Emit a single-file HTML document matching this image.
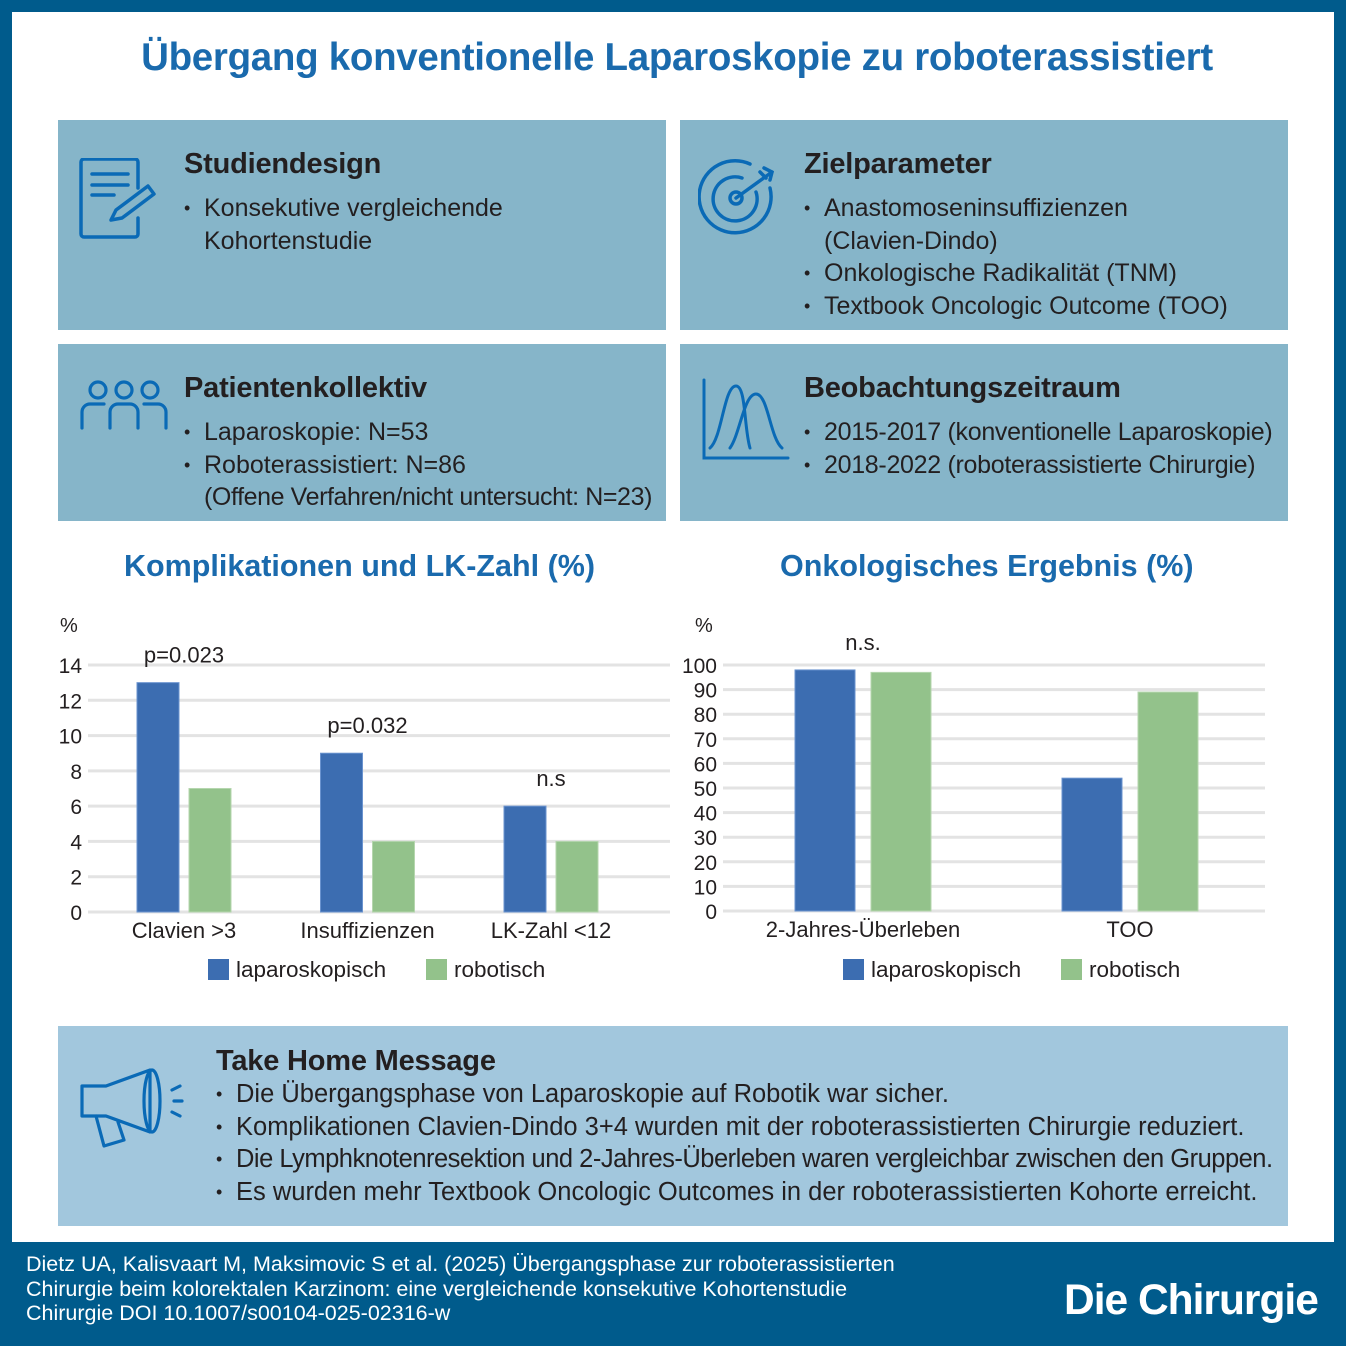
<!DOCTYPE html>
<html><head><meta charset="utf-8">
<style>
*{margin:0;padding:0;box-sizing:border-box}
body{width:1346px;height:1346px;background:#005b8c;font-family:"Liberation Sans",sans-serif;position:relative;overflow:hidden;color:#231f20}
.abs{position:absolute}
#inner{left:12px;top:12px;width:1322px;height:1230px;background:#fff}
.box{position:absolute;background:#86b5c9}
.box h2{position:absolute;font-size:29px;font-weight:bold;color:#231f20;letter-spacing:-0.2px;white-space:nowrap}
.box ul{position:absolute;list-style:none;font-size:25px;line-height:32.5px;letter-spacing:0;white-space:nowrap}
.box li{padding-left:20px;position:relative}
.box li.b:before{content:"•";position:absolute;left:0;font-size:18px}
.ctitle{position:absolute;font-size:30.5px;font-weight:bold;color:#1a6aad;white-space:nowrap}
svg text{font-family:"Liberation Sans",sans-serif}
</style></head><body>
<div id="inner" class="abs"></div>
<div class="abs" style="left:0;width:1354px;top:36px;text-align:center;font-size:38.5px;font-weight:bold;color:#1a6aad;letter-spacing:-0.3px">Übergang konventionelle Laparoskopie zu roboterassistiert</div>

<div class="box" style="left:58px;top:120px;width:608px;height:210px">
<svg class="abs" style="left:20px;top:38px" width="82" height="82" viewBox="0 0 82 82"><g fill="none" stroke="#0a6ab6" stroke-width="3.5" stroke-linecap="round" stroke-linejoin="round"><path d="M60 60 V76 a3 3 0 0 1 -3 3 H6 a3 3 0 0 1 -3 -3 V4 a3 3 0 0 1 3 -3 H57 a3 3 0 0 1 3 3 V30"/><path d="M14 16 H50 M14 27 H50 M14 37 H36"/><path d="M33 62 L38 52 L70 28 L76 36 L44 60 Z"/></g></svg>
<h2 style="left:126px;top:28px">Studiendesign</h2>
<ul style="left:126px;top:72px"><li class="b">Konsekutive vergleichende</li><li>Kohortenstudie</li></ul>
</div>

<div class="box" style="left:680px;top:120px;width:608px;height:210px">
<svg class="abs" style="left:18px;top:38px" width="84" height="82" viewBox="0 0 84 82"><g fill="none" stroke="#0a6ab6" stroke-width="3.5" stroke-linecap="round"><path d="M72 30 A36 36 0 1 1 52 6"/><path d="M58 34 A22 22 0 1 1 44 20"/><circle cx="38" cy="40" r="6"/><path d="M38 40 L74 14 M66 10 L74 14 L72 22 M62 14 L68 20"/></g></svg>
<h2 style="left:124px;top:28px">Zielparameter</h2>
<ul style="left:124px;top:72px"><li class="b">Anastomoseninsuffizienzen</li><li>(Clavien-Dindo)</li><li class="b">Onkologische Radikalität (TNM)</li><li class="b">Textbook Oncologic Outcome (TOO)</li></ul>
</div>

<div class="box" style="left:58px;top:344px;width:608px;height:177px">
<svg class="abs" style="left:22px;top:32px" width="88" height="56" viewBox="0 0 88 56"><g fill="none" stroke="#0a6ab6" stroke-width="3.2" stroke-linecap="round"><circle cx="18" cy="14" r="8"/><circle cx="44" cy="14" r="8"/><circle cx="70" cy="14" r="8"/><path d="M2 52 V36 a8 8 0 0 1 8 -8 H24 M30 52 V36 a8 8 0 0 1 8 -8 H50 a8 8 0 0 1 8 8 V52 M64 28 H78 a8 8 0 0 1 8 8 V52"/></g></svg>
<h2 style="left:126px;top:28px">Patientenkollektiv</h2>
<ul style="left:126px;top:72px"><li class="b">Laparoskopie: N=53</li><li class="b">Roboterassistiert: N=86</li><li style="letter-spacing:-0.4px">(Offene Verfahren/nicht untersucht: N=23)</li></ul>
</div>

<div class="box" style="left:680px;top:344px;width:608px;height:177px">
<svg class="abs" style="left:20px;top:34px" width="90" height="84" viewBox="0 0 90 84"><g fill="none" stroke="#0a6ab6" stroke-width="3" stroke-linecap="round"><path d="M4 2 V80 H88"/><path d="M10 70 C22 60 24 8 36 8 C46 8 44 50 50 70"/><path d="M30 70 C40 56 44 16 56 16 C68 16 70 60 82 70"/></g></svg>
<h2 style="left:124px;top:28px">Beobachtungszeitraum</h2>
<ul style="left:124px;top:72px;letter-spacing:-0.3px"><li class="b">2015-2017 (konventionelle Laparoskopie)</li><li class="b">2018-2022 (roboterassistierte Chirurgie)</li></ul>
</div>

<div class="ctitle" style="left:124px;top:549px">Komplikationen und LK-Zahl (%)</div>
<div class="ctitle" style="left:780px;top:549px">Onkologisches Ergebnis (%)</div>

<svg class="abs" style="left:0;top:0" width="1346" height="1346" id="charts"></svg>

<div class="box" style="left:58px;top:1026px;width:1230px;height:200px;background:#a2c7dd">
<svg class="abs" style="left:20px;top:40px" width="108" height="84" viewBox="0 0 108 84"><g fill="none" stroke="#0a6ab6" stroke-width="3.2" stroke-linecap="round" stroke-linejoin="round"><path d="M4 20 H28 L72 4 V66 L28 50 H4 Z"/><ellipse cx="74" cy="35" rx="8" ry="31"/><path d="M18 50 L26 80 L46 74 L40 56"/><path d="M94 24 L102 20 M96 35 H104 M94 46 L102 50"/></g></svg>
<h2 style="left:158px;top:19px">Take Home Message</h2>
<ul style="left:158px;top:52px;font-size:25.5px;letter-spacing:0"><li class="b">Die Übergangsphase von Laparoskopie auf Robotik war sicher.</li><li class="b">Komplikationen Clavien-Dindo 3+4 wurden mit der roboterassistierten Chirurgie reduziert.</li><li class="b" style="letter-spacing:-0.5px">Die Lymphknotenresektion und 2-Jahres-Überleben waren vergleichbar zwischen den Gruppen.</li><li class="b">Es wurden mehr Textbook Oncologic Outcomes in der roboterassistierten Kohorte erreicht.</li></ul>
</div>

<div class="abs" style="left:26px;top:1252px;color:#fff;font-size:21.5px;line-height:24.5px;letter-spacing:0;white-space:nowrap">Dietz UA, Kalisvaart M, Maksimovic S et al. (2025) Übergangsphase zur roboterassistierten<br>Chirurgie beim kolorektalen Karzinom: eine vergleichende konsekutive Kohortenstudie<br>Chirurgie DOI 10.1007/s00104-025-02316-w</div>
<div class="abs" style="left:1064px;top:1277px;color:#fff;font-size:42.5px;font-weight:bold;letter-spacing:-1px;white-space:nowrap">Die Chirurgie</div>

<script>
const catsL=["Clavien >3","Insuffizienzen","LK-Zahl <12"];
const lapL=[13,9,6];
const robL=[7,4,4];
const ticksL=[0,2,4,6,8,10,12,14];
const notesL=["p=0.023","p=0.032","n.s"];
const catsR=["2-Jahres-Überleben","TOO"];
const lapR=[98,54];
const robR=[97,89];
const ticksR=[0,10,20,30,40,50,60,70,80,90,100];
const notesR=["n.s.",""];
const NS="http://www.w3.org/2000/svg";
const svg=document.getElementById('charts');
function mk(t,a,txt){const e=document.createElementNS(NS,t);for(const k in a)e.setAttribute(k,a[k]);if(txt!==undefined)e.textContent=txt;svg.appendChild(e);return e;}
function chart(o){
  const y=v=>o.y0-(v/o.max)*(o.y0-o.yTop);
  o.ticks.forEach(t=>{
    const l=mk('line',{x1:o.gx0,x2:o.gx1,y1:y(t),y2:y(t),stroke:'#e3e3e3','stroke-width':3});
    
    
    const tx=mk('text',{x:o.tickX,y:y(t)+8,'text-anchor':'end','font-size':21,fill:'#231f20'},t);
    
    
  });
  const pc=mk('text',{x:o.tickX-22,y:o.yTop-33,'font-size':20,fill:'#231f20'},'%');
  
  
  const cx=i=>o.c0+i*o.step;
  o.cats.forEach((c,i)=>{
    const xc=cx(i);
    const b1=mk('rect',{x:xc-o.gap/2-o.bw,y:y(o.lap[i]),width:o.bw,height:o.y0-y(o.lap[i]),fill:'#3c6db1',stroke:'#6a93cf','stroke-width':1});
    
    
    const b2=mk('rect',{x:xc+o.gap/2,y:y(o.rob[i]),width:o.bw,height:o.y0-y(o.rob[i]),fill:'#93c28b',stroke:'#b5d6ae','stroke-width':1});
    
    
    const lb=mk('text',{x:xc,y:o.y0+26,'text-anchor':'middle','font-size':22,fill:'#231f20'},c);
    
    
    if(o.notes[i]){
      const top=Math.max(o.lap[i],o.rob[i]);
      const n=mk('text',{x:xc,y:y(top)-o.noteOff,'text-anchor':'middle','font-size':22,fill:'#231f20'},o.notes[i]);
      
      
    }
  });
  const lg=[['#3c6db1','laparoskopisch',o.lgx],['#93c28b','robotisch',o.lgx+218]];
  lg.forEach(([c,t,x])=>{
    const r=mk('rect',{x:x,y:959,width:21,height:21,fill:c});
    
    
    const tt=mk('text',{x:x+28,y:977,'font-size':22.5,fill:'#231f20'},t);
    
    
  });
}
chart({cats:catsL,lap:lapL,rob:robL,ticks:ticksL,notes:notesL,max:14,y0:912,yTop:665,gx0:88,gx1:670,tickX:82,c0:184,step:183.5,bw:42,gap:10,noteOff:20,lgx:208});
chart({cats:catsR,lap:lapR,rob:robR,ticks:ticksR,notes:notesR,max:100,y0:911,yTop:665,gx0:723,gx1:1265,tickX:717,c0:863,step:267,bw:60,gap:16,noteOff:20,lgx:843});
</script>
</body></html>
